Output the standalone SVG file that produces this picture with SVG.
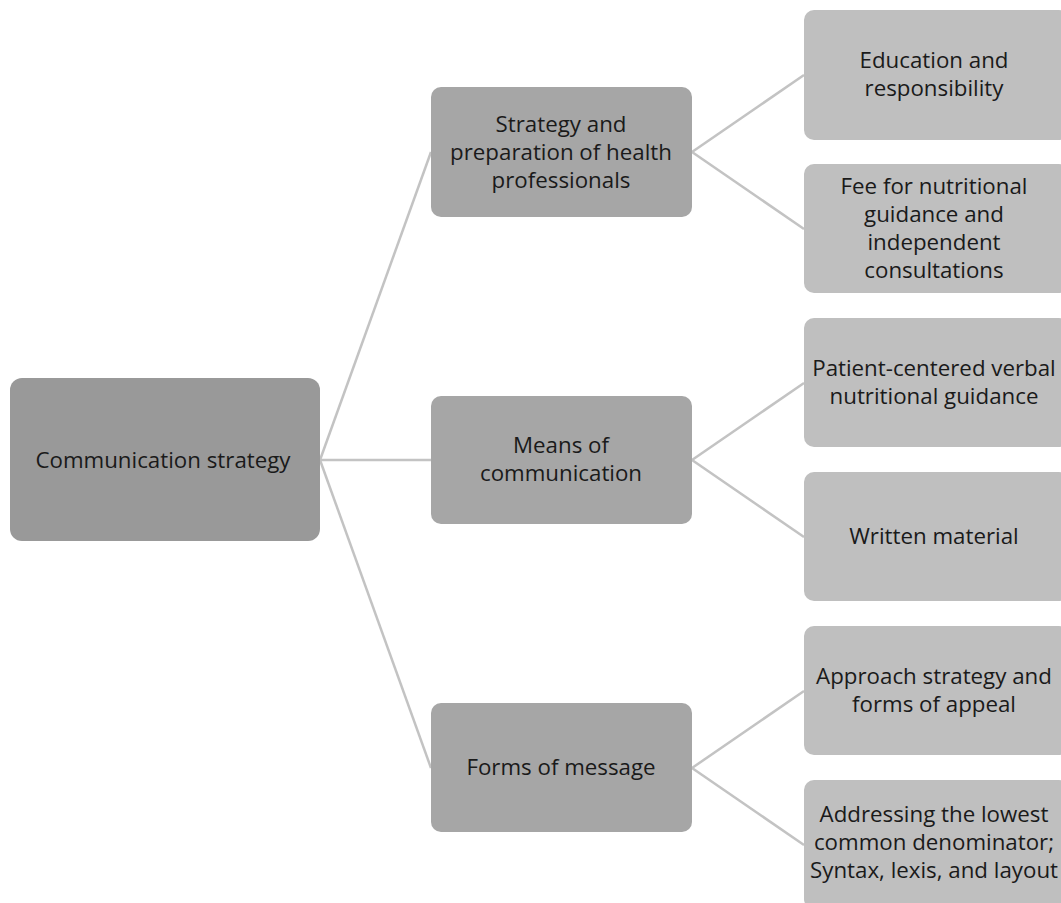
<svg xmlns="http://www.w3.org/2000/svg" width="1061" height="903" viewBox="0 0 1061 903">
<style>
.t{font-family:"Open Sans","Noto Sans",sans-serif;font-size:22.3px;fill:#1a1a1a;text-anchor:middle}
.c{stroke:#c3c3c3;stroke-width:2.5;fill:none}
.l1{fill:#999999}
.l2{fill:#a6a6a6}
.l3{fill:#bfbfbf}
</style>
<rect width="1061" height="903" fill="#ffffff"/>
<g id="connectors">
<line class="c" x1="320" y1="460" x2="431" y2="152"/>
<line class="c" x1="320" y1="460" x2="431" y2="460"/>
<line class="c" x1="320" y1="460" x2="431" y2="768"/>
<line class="c" x1="692" y1="152" x2="804" y2="75"/>
<line class="c" x1="692" y1="152" x2="804" y2="229"/>
<line class="c" x1="692" y1="460" x2="804" y2="383"/>
<line class="c" x1="692" y1="460" x2="804" y2="537"/>
<line class="c" x1="692" y1="768" x2="804" y2="691"/>
<line class="c" x1="692" y1="768" x2="804" y2="845"/>
</g>
<g id="root">
<rect class="l1" x="10" y="378" width="310" height="163" rx="12"/>
<text class="t" x="163" y="468">Communication strategy</text>
</g>
<g id="strategy">
<rect class="l2" x="431" y="87" width="261" height="130" rx="10"/>
<text class="t" x="561" y="132">Strategy and</text>
<text class="t" x="561" y="160">preparation of health</text>
<text class="t" x="561" y="188">professionals</text>
</g>
<g id="means">
<rect class="l2" x="431" y="396" width="261" height="128" rx="10"/>
<text class="t" x="561" y="453">Means of</text>
<text class="t" x="561" y="481">communication</text>
</g>
<g id="forms">
<rect class="l2" x="431" y="703" width="261" height="129" rx="10"/>
<text class="t" x="561" y="775">Forms of message</text>
</g>
<g id="education">
<rect class="l3" x="804" y="10" width="265" height="130" rx="10"/>
<text class="t" x="934" y="68">Education and</text>
<text class="t" x="934" y="96">responsibility</text>
</g>
<g id="fee">
<rect class="l3" x="804" y="164" width="265" height="129" rx="10"/>
<text class="t" x="934" y="194">Fee for nutritional</text>
<text class="t" x="934" y="222">guidance and</text>
<text class="t" x="934" y="250">independent</text>
<text class="t" x="934" y="278">consultations</text>
</g>
<g id="patient">
<rect class="l3" x="804" y="318" width="265" height="129" rx="10"/>
<text class="t" x="934" y="376">Patient-centered verbal</text>
<text class="t" x="934" y="404">nutritional guidance</text>
</g>
<g id="written">
<rect class="l3" x="804" y="472" width="265" height="129" rx="10"/>
<text class="t" x="934" y="544">Written material</text>
</g>
<g id="approach">
<rect class="l3" x="804" y="626" width="265" height="129" rx="10"/>
<text class="t" x="934" y="684">Approach strategy and</text>
<text class="t" x="934" y="712">forms of appeal</text>
</g>
<g id="addressing">
<rect class="l3" x="804" y="780" width="265" height="129" rx="10"/>
<text class="t" x="934" y="822">Addressing the lowest</text>
<text class="t" x="934" y="850">common denominator;</text>
<text class="t" x="934" y="878">Syntax, lexis, and layout</text>
</g>
</svg>
